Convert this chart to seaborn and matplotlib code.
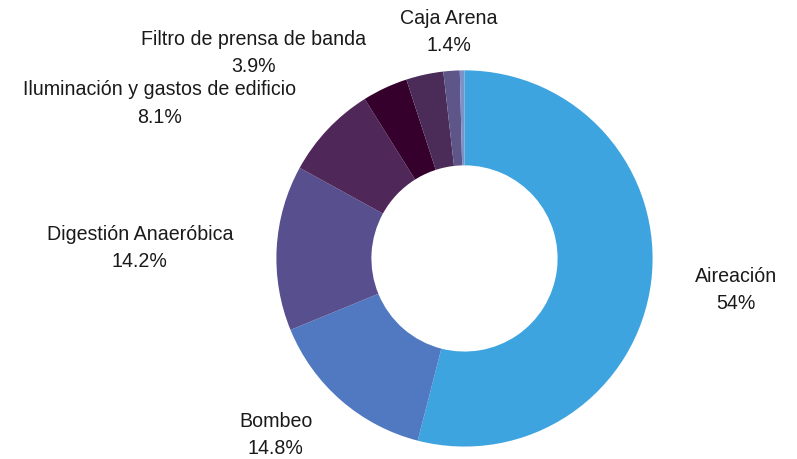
import numpy as np
import matplotlib.pyplot as plt
import seaborn as sns

categories = ['Aireación', 'Bombeo', 'Digestión Anaeróbica',
              'Iluminación y gastos de edificio', 'Filtro de prensa de banda',
              'Otros', 'Caja Arena', 'Varios']
values = [54.0, 14.8, 14.2, 8.1, 3.9, 3.2, 1.4, 0.4]
pct_labels = ['54%', '14.8%', '14.2%', '8.1%', '3.9%', '', '1.4%', '']
colors = ['#3ea4e0', '#5079c1', '#584f8e', '#502759', '#35002b',
          '#4b2b57', '#5e5689', '#7c92c8']

sns.set_theme(style="white")
plt.rcParams['font.family'] = ['Liberation Sans', 'DejaVu Sans']

fig = plt.figure(figsize=(7.97, 4.6), dpi=100)
ax = fig.add_axes([0, 0, 1, 1])

wedges, _ = ax.pie(values, colors=colors, startangle=90, counterclock=False,
                   radius=0.99, center=(0, -0.005),
                   wedgeprops=dict(width=0.5, linewidth=0))

# labels sit at ~1.2 radius, anchored on the side facing the ring
for w, cat, pct in zip(wedges, categories, pct_labels):
    if not pct:
        continue
    ang = np.deg2rad((w.theta1 + w.theta2) / 2)
    x, y = 1.22 * np.cos(ang), 1.21 * np.sin(ang) - 0.015
    if abs(np.cos(ang)) < 0.15:
        ha = 'center'
    elif x > 0:
        ha = 'left'
    else:
        ha = 'right'
    ax.text(x, y, f'{cat}\n{pct}', ha=ha, va='center', multialignment='center',
            fontsize=14.1, color='#1a1a1a', linespacing=1.55)

ax.set_xlim(-464.5 / 190, (797 - 464.5) / 190)
ax.set_ylim((258.5 - 460) / 190, 258.5 / 190)
ax.set_aspect('equal')
ax.axis('off')

plt.savefig('out.png', dpi=100)
